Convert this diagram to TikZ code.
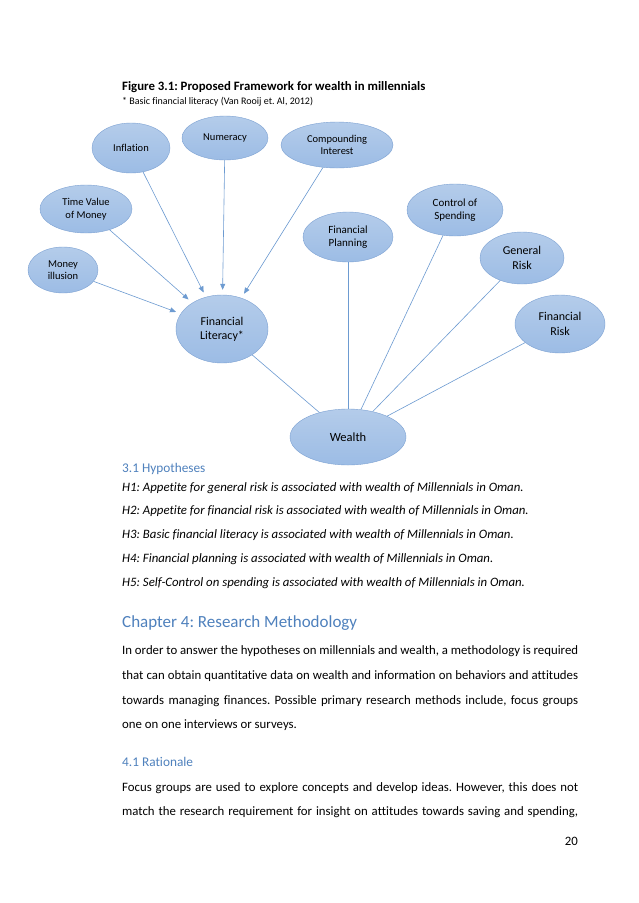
\documentclass[tikz,border=0pt]{standalone}
\usepackage{fontspec}
\setmainfont{Carlito}[Ligatures=NoCommon]
\usetikzlibrary{arrows.meta, shapes.geometric}
\definecolor{BubbleTop}{HTML}{B4CCEA}
\definecolor{BubbleBot}{HTML}{9CBCE5}
\definecolor{BubbleLine}{HTML}{7CA1D2}
\definecolor{LinkBlue}{HTML}{6D9BD1}
\definecolor{HeadBlue}{HTML}{4F81BD}

\tikzset{
  bubble/.style={ellipse, draw=BubbleLine, top color=BubbleTop, bottom color=BubbleBot,
    inner sep=0pt, align=center, font=\fontsize{10.5}{12.5}\selectfont},
  link/.style={draw=LinkBlue, line width=0.6pt},
  feed/.style={link, -{Triangle[length=6pt, width=5pt]}, shorten >=5pt},
  body/.style={anchor=base west, inner sep=0pt, font=\fontsize{12.8}{15}\selectfont},
  hyp/.style={body, font=\fontsize{12.8}{15}\selectfont\itshape},
  subhead/.style={anchor=base west, inner sep=0pt, text=HeadBlue, font=\fontsize{13.3}{15}\selectfont}
}
\newcommand{\jline}[1]{\makebox[456pt][s]{#1}}
\frenchspacing

\begin{document}
\begin{tikzpicture}[x=1pt, y=-1pt]
  \useasboundingbox[fill=white] (0,0) rectangle (638,903);

  % caption
  \node[body, font=\fontsize{12.8}{14}\selectfont\bfseries] (caption) at (122,90)
    {Figure 3.1: Proposed Framework for wealth in millennials};
  \node[body, font=\fontsize{10}{12}\selectfont] (note) at (122,104)
    {* Basic financial literacy (Van Rooij et. Al, 2012)};

  % inputs of financial literacy
  \node[bubble, minimum width=78pt, minimum height=50pt] (infl) at (131,148) {Inflation};
  \node[bubble, minimum width=86pt, minimum height=44pt] (numer) at (225,138) {Numeracy};
  \node[bubble, minimum width=112pt, minimum height=46pt] (compound) at (337,145) {Compounding\\Interest};
  \node[bubble, minimum width=92pt, minimum height=48pt] (tvm) at (86,209) {Time Value\\of Money};
  \node[bubble, minimum width=70pt, minimum height=46pt] (illusion) at (63,270) {Money\\illusion};
  \node[bubble, minimum width=92pt, minimum height=68pt, font=\fontsize{12}{14}\selectfont] (finlit) at (222,329) {Financial\\Literacy*};

  % drivers of wealth
  \node[bubble, minimum width=90pt, minimum height=50pt, font=\fontsize{11}{13.5}\selectfont] (planning) at (348,237) {Financial\\Planning};
  \node[bubble, minimum width=96pt, minimum height=52pt, font=\fontsize{11}{13.5}\selectfont] (spending) at (455,210) {Control of\\Spending};
  \node[bubble, minimum width=84pt, minimum height=52pt, font=\fontsize{12}{15}\selectfont] (genrisk) at (522,258) {General\\Risk};
  \node[bubble, minimum width=90pt, minimum height=58pt, font=\fontsize{12}{15}\selectfont] (finrisk) at (560,324) {Financial\\Risk};
  \node[bubble, minimum width=116pt, minimum height=56pt, font=\fontsize{12.5}{15}\selectfont] (wealth) at (348,437) {Wealth};

  % arrows into literacy
  \foreach \src in {infl, numer, compound, tvm, illusion}
    \draw[feed] (\src) -- (finlit);
  % links to wealth
  \foreach \src in {finlit, planning, spending, genrisk, finrisk}
    \draw[link] (\src) -- (wealth);

  % hypotheses
  \node[subhead] (hyphead) at (122,472) {3.1 Hypotheses};
  \node[hyp] (h1) at (122,491) {H1: Appetite for general risk is associated with wealth of Millennials in Oman.};
  \node[hyp] (h2) at (122,514) {H2: Appetite for financial risk is associated with wealth of Millennials in Oman.};
  \node[hyp] (h3) at (122,538) {H3: Basic financial literacy is associated with wealth of Millennials in Oman.};
  \node[hyp] (h4) at (122,562) {H4: Financial planning is associated with wealth of Millennials in Oman.};
  \node[hyp] (h5) at (122,586) {H5: Self-Control on spending is associated with wealth of Millennials in Oman.};

  % chapter 4
  \node[subhead, font=\fontsize{17}{20}\selectfont] (chap) at (122,627) {Chapter 4: Research Methodology};
  \node[body] (p1) at (122,654) {\jline{In order to answer the hypotheses on millennials and wealth, a methodology is required}};
  \node[body] (p2) at (122,679) {\jline{that can obtain quantitative data on wealth and information on behaviors and attitudes}};
  \node[body] (p3) at (122,704) {\jline{towards managing finances. Possible primary research methods include, focus groups}};
  \node[body] (p4) at (122,728) {one on one interviews or surveys.};

  \node[subhead] (rathead) at (122,766) {4.1 Rationale};
  \node[body] (r1) at (122,791) {\jline{Focus groups are used to explore concepts and develop ideas. However, this does not}};
  \node[body] (r2) at (122,815) {\jline{match the research requirement for insight on attitudes towards saving and spending,}};

  \node[body, anchor=base east] (pagenum) at (578,845) {20};
\end{tikzpicture}
\end{document}
